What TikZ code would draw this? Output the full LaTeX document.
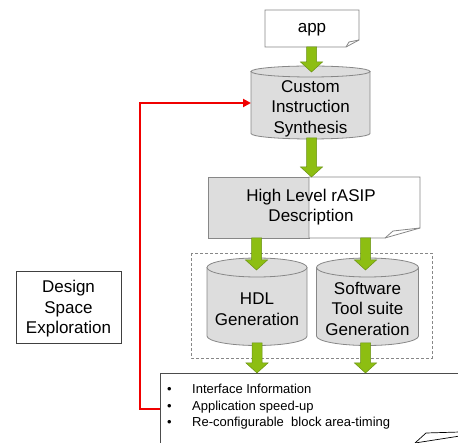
\documentclass[tikz,border=0pt]{standalone}
\usepackage{fontspec}
\setmainfont{Liberation Sans}
\usetikzlibrary{arrows.meta}

\definecolor{cylfill}{RGB}{221,221,221}
\definecolor{edge}{RGB}{135,135,135}
\definecolor{arrowgreen}{RGB}{141,190,18}
\definecolor{arrowedge}{RGB}{105,145,20}
\definecolor{loopred}{RGB}{240,0,0}

% vertical block arrow: #1 = centre x, #2 = top y, #3 = tip y
\newcommand\greenarrow[3]{%
  \filldraw[blockarrow]
    ({#1-5},#2) -- ({#1+5},#2) -- ({#1+5},{#3-10}) -- ({#1+11},{#3-10})
    -- (#1,#3) -- ({#1-11},{#3-10}) -- ({#1-5},{#3-10}) -- cycle;}

% cylinder: #1 = centre x, #2 = half width, #3 = top y, #4 = bottom y, #5 = cap half height
\newcommand\drumshape[5]{%
  \filldraw[cyl] ({#1-#2},#3) -- ({#1-#2},#4)
    arc[start angle=180,end angle=0,x radius=#2pt,y radius=#5pt] -- ({#1+#2},#3) -- cycle;
  \filldraw[cyl] (#1,#3) ellipse[x radius=#2pt,y radius=#5pt];}

\begin{document}
\begin{tikzpicture}[x=1pt,y=1pt,yscale=-1,
  txt/.style={align=center,inner sep=0pt,font=\fontsize{17}{20.5}\selectfont},
  itemtxt/.style={anchor=base west,inner sep=0pt,font=\fontsize{13}{16}\selectfont},
  cyl/.style={fill=cylfill,draw=edge,line width=0.8pt},
  boxline/.style={draw=edge,line width=0.8pt},
  blockarrow/.style={fill=arrowgreen,draw=arrowedge,line width=0.5pt},
  feedback/.style={draw=loopred,line width=2.2pt,-{Triangle[length=8pt,width=8pt]}}]
\useasboundingbox (0,0) rectangle (458,443);
\clip (0,0) rectangle (458,443);

% input document
\filldraw[boxline,fill=white] (265,10) -- (359,10) -- (359,40) -- (346,47) -- (265,47) -- cycle;
\draw[boxline] (346,47) -- (349,42) -- (359,40);
\node[txt,anchor=base] (app) at (312,33) {app};

% instruction synthesis
\drumshape{310.5}{59.5}{71.5}{133.5}{5.5}
\node[txt] (cis) at (310.5,108.5) {Custom\\Instruction\\Synthesis};
\coordinate (cisleft) at (251,103);

% high level description
\filldraw[boxline,fill=cylfill] (208,177) rectangle (309,238);
\filldraw[boxline,fill=white] (309,177) -- (420,177) -- (420,228) -- (385,238) -- (309,238) -- cycle;
\draw[boxline] (385,238) -- (393,231) -- (420,228);
\node[txt] (hl) at (311,207) {High Level rASIP\\Description};

% generation stage
\draw[edge,line width=0.8pt,dash pattern=on 3pt off 2pt] (191,253) rectangle (432,358);
\drumshape{257}{50}{267.5}{336}{9.5}
\node[txt] (hdl) at (257,309) {HDL\\Generation};
\drumshape{367.5}{51}{267.5}{336}{9.5}
\node[txt] (sw) at (367.5,308.5) {Software\\Tool suite\\Generation};

% results
\filldraw[draw=black!70,line width=0.8pt,fill=white] (160,373) rectangle (470,460);
\coordinate (fbleft) at (160,409);
\node[itemtxt] at (167,394) {•};
\node[itemtxt] (i1) at (192,394) {Interface Information};
\node[itemtxt] at (167,410.5) {•};
\node[itemtxt] (i2) at (192,410.5) {Application speed-up};
\node[itemtxt] at (167,426.5) {•};
\node[itemtxt] (i3) at (192,426.5) {Re-configurable\ \ block area-timing};
\draw[black,line width=0.7pt] (415,443) -- (426,433) -- (460,432);
\draw[black,line width=0.7pt] (415,443) -- (460,436);

% flow arrows
\greenarrow{311.5}{47}{72}
\greenarrow{311.5}{138}{177}
\greenarrow{256.5}{238}{270}
\greenarrow{365.5}{238}{270}
\greenarrow{257}{343}{373}
\greenarrow{365.5}{343}{373}

% exploration loop
\filldraw[draw=black!75,line width=0.8pt,fill=white] (16,271) rectangle (121,343);
\node[txt] (dse) at (68.5,309) {Design\\Space\\Exploration};
\draw[feedback] (fbleft) -- (140,409) |- (cisleft);
\end{tikzpicture}
\end{document}
